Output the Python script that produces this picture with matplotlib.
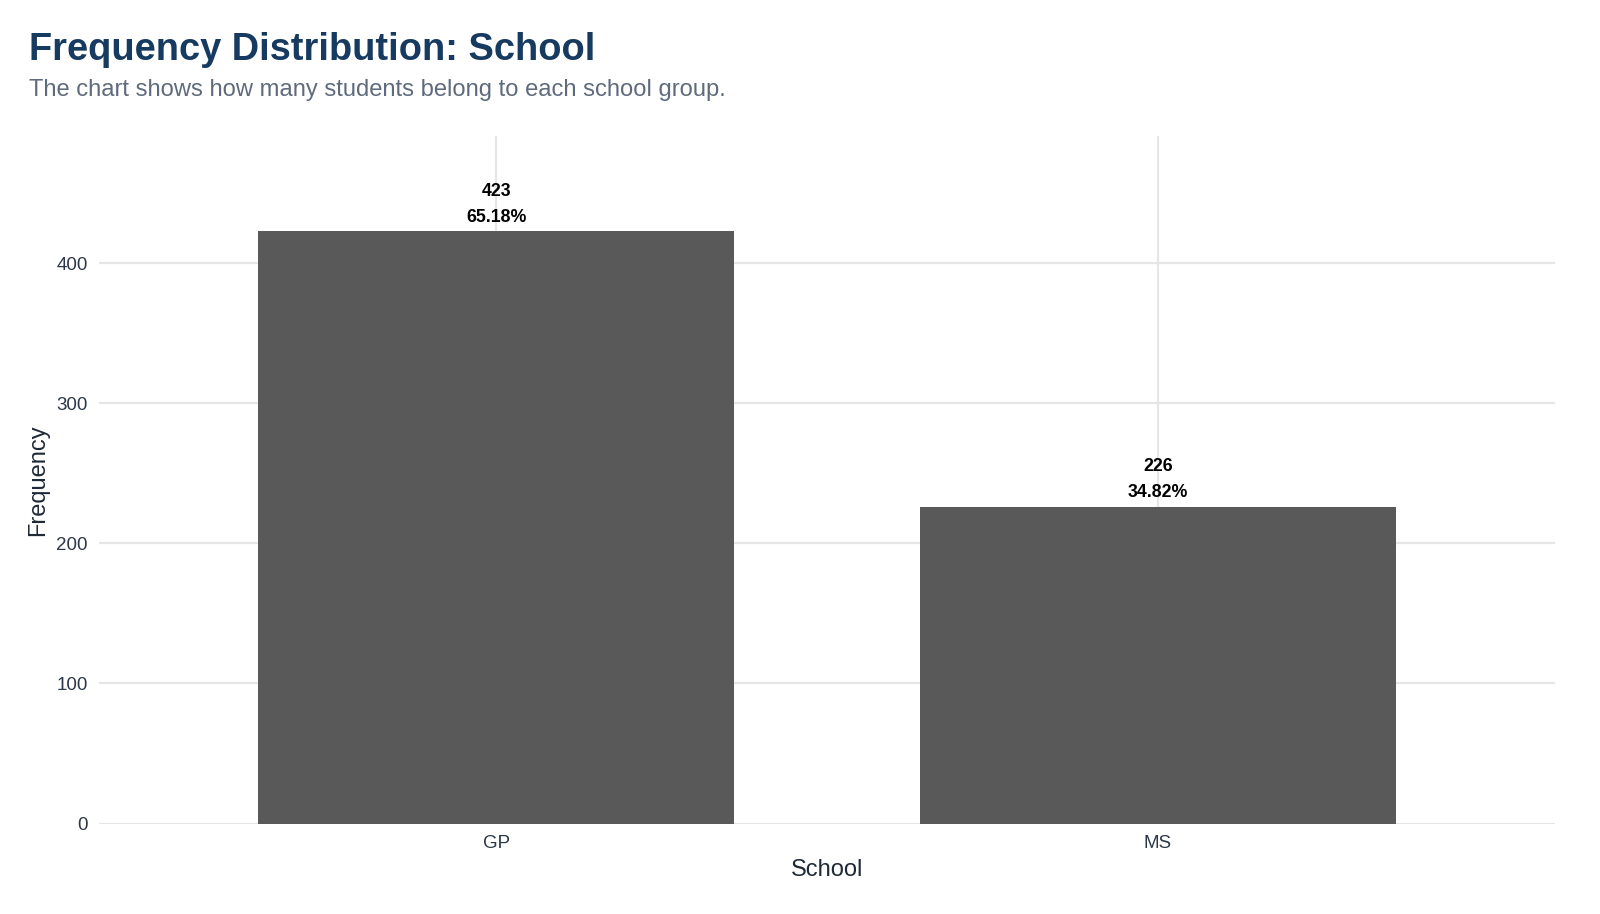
import matplotlib.pyplot as plt

schools = ["GP", "MS"]
counts = [423, 226]
percents = [65.18, 34.82]

plt.rcParams['font.family'] = ['Liberation Sans', 'DejaVu Sans']

fig = plt.figure(figsize=(16, 9.14), dpi=100)
ax = fig.add_axes([99 / 1600, 1 - 823.5 / 914, (1555 - 99) / 1600, (823.5 - 136) / 914])

x = range(len(schools))
ax.bar(x, counts, width=0.72, color="#595959", linewidth=0, zorder=2)

for i, (c, p) in enumerate(zip(counts, percents)):
    ax.annotate(f"{c}\n{p:.2f}%", (i, c), xytext=(0, 4), textcoords="offset points",
                ha="center", va="bottom", fontsize=12.8, fontweight="bold",
                color="black", linespacing=1.7, zorder=3)

ax.set_xlim(-0.6, 1.6)
ax.set_ylim(0, 491)
ax.set_xticks(list(x))
ax.set_xticklabels(schools)
ax.set_yticks([0, 100, 200, 300, 400])

ax.grid(True, color="#e6e6e9", linewidth=1.6, zorder=0)
ax.set_axisbelow(True)
for s in ax.spines.values():
    s.set_visible(False)
ax.tick_params(length=0, labelsize=13.5, labelcolor="#2d3748", pad=8)

ax.set_xlabel("School", fontsize=17, color="#1f2937", labelpad=5)
ax.set_ylabel("Frequency", fontsize=17, color="#1f2937", labelpad=5)

fig.text(29 / 1600, 1 - 60 / 914, "Frequency Distribution: School", fontsize=27.4,
         fontweight="bold", color="#173a60", ha="left", va="baseline")
fig.text(29 / 1600, 1 - 96 / 914, "The chart shows how many students belong to each school group.",
         fontsize=17.1, color="#5f6b7d", ha="left", va="baseline")

fig.savefig("out.png", dpi=100, facecolor="white")
